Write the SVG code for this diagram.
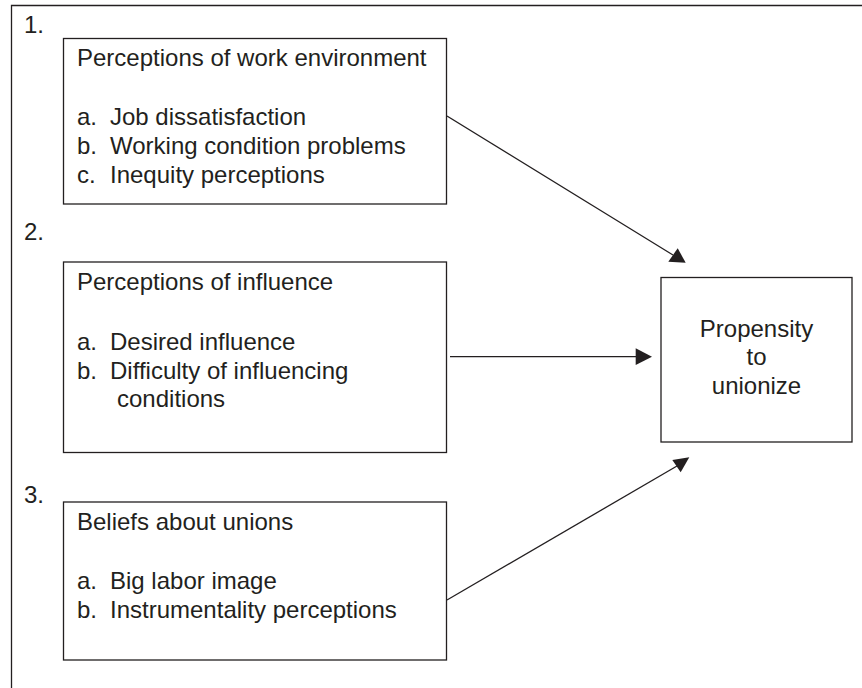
<svg xmlns="http://www.w3.org/2000/svg" width="862" height="688" viewBox="0 0 862 688">
<style>
.box{fill:#fff;stroke:#231f20;stroke-width:1.3}
.frame{fill:none;stroke:#231f20;stroke-width:1.3}
.t{font-family:"Liberation Sans",Arial,Helvetica,sans-serif;font-size:24px;fill:#231f20}
.c{text-anchor:middle}
.conn{stroke:#231f20;stroke-width:1.3;fill:none}
.head{fill:#231f20}
</style>
<rect width="862" height="688" fill="#fff"/>
<g id="frame">
<path class="frame" d="M11.5 688 V5.5 H862"/>
<text class="t" x="24" y="33">1.</text>
<text class="t" x="24" y="240">2.</text>
<text class="t" x="24" y="503">3.</text>
</g>
<g id="node1">
<rect class="box" x="63.5" y="38.5" width="383" height="165.5"/>
<text class="t" x="77" y="66">Perceptions of work environment</text>
<text class="t" x="77" y="125">a.</text><text class="t" x="110" y="125">Job dissatisfaction</text>
<text class="t" x="77" y="154">b.</text><text class="t" x="110" y="154">Working condition problems</text>
<text class="t" x="77" y="183">c.</text><text class="t" x="110" y="183">Inequity perceptions</text>
</g>
<g id="node2">
<rect class="box" x="63.5" y="262" width="383" height="190.5"/>
<text class="t" x="77" y="290">Perceptions of influence</text>
<text class="t" x="77" y="350">a.</text><text class="t" x="110" y="350">Desired influence</text>
<text class="t" x="77" y="378.5">b.</text><text class="t" x="110" y="378.5">Difficulty of influencing</text>
<text class="t" x="117" y="407">conditions</text>
</g>
<g id="node3">
<rect class="box" x="63.5" y="502" width="383" height="158"/>
<text class="t" x="77" y="530">Beliefs about unions</text>
<text class="t" x="77" y="589">a.</text><text class="t" x="110" y="589">Big labor image</text>
<text class="t" x="77" y="617.5">b.</text><text class="t" x="110" y="617.5">Instrumentality perceptions</text>
</g>
<g id="target">
<rect class="box" x="661" y="277.5" width="191" height="164.5"/>
<text class="t c" x="756.5" y="336.5">Propensity</text>
<text class="t c" x="756.5" y="365">to</text>
<text class="t c" x="756.5" y="393.5">unionize</text>
</g>
<g id="connectors">
<line class="conn" x1="447" y1="116" x2="673" y2="255"/>
<polygon class="head" points="685.7,262.7 668.3,261.7 677.7,248.3"/>
<line class="conn" x1="450" y1="356.7" x2="637" y2="356.7"/>
<polygon class="head" points="652,356.7 635.7,348.3 635.7,365"/>
<line class="conn" x1="447" y1="600" x2="677" y2="466"/>
<polygon class="head" points="689.3,457.3 672.3,460 680.7,472.3"/>
</g>
</svg>
